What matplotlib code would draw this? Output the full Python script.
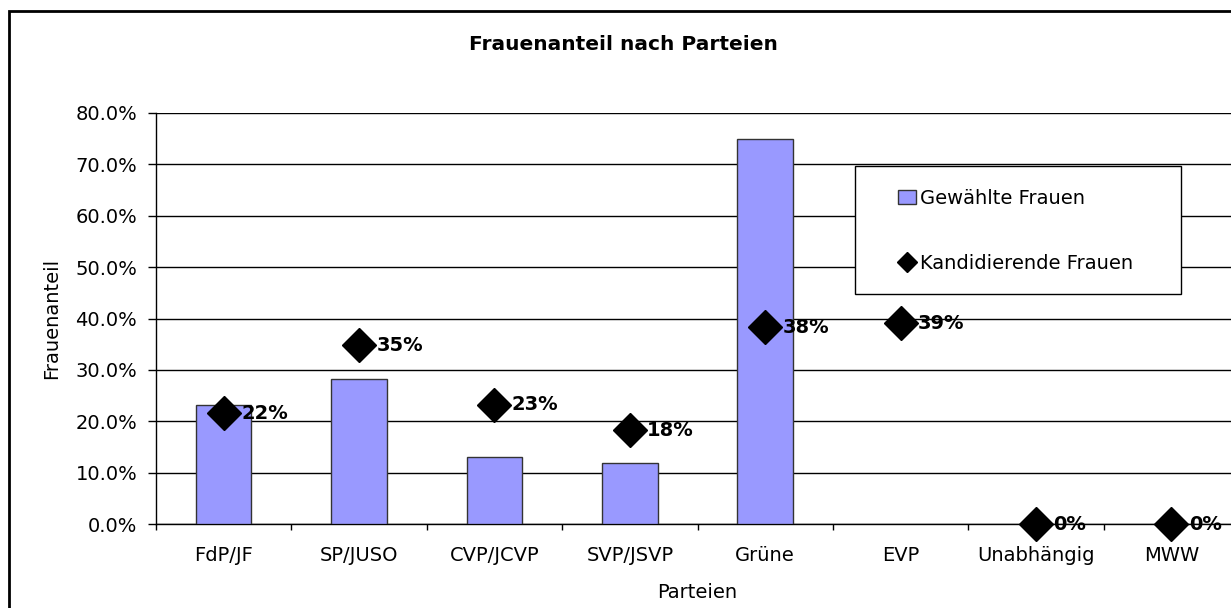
import matplotlib
matplotlib.use("Agg")
from matplotlib import pyplot as plt
from matplotlib.patches import Rectangle
from matplotlib.ticker import FuncFormatter
import numpy as np

# Frauenanteil nach Parteien

parteien = ["FdP/JF", "SP/JUSO", "CVP/JCVP", "SVP/JSVP", "Grüne", "EVP", "Unabhängig", "MWW"]
gewaehlt = [23.1, 28.2, 13.0, 11.9, 75.0, 0.0, 0.0, 0.0]
kandidierend = [21.6, 34.8, 23.2, 18.2, 38.3, 39.1, 0.0, 0.0]

plt.rcParams['font.family'] = ['DejaVu Sans']

W, H = 1231, 608
fig = plt.figure(figsize=(W / 100, H / 100), dpi=100)
ax = fig.add_axes([156/W, 84/H, 1083/W, 411/H])

x = np.arange(len(parteien))
bars = ax.bar(x, gewaehlt, width=0.41, color='#9999ff', edgecolor='#333333', linewidth=1,
              label='Gewählte Frauen', zorder=3)
for b, v in zip(bars, gewaehlt):
    if v == 0:
        b.set_visible(False)
pts, = ax.plot(x, kandidierend, linestyle='none', marker='D', markersize=17, color='black',
               label='Kandidierende Frauen', zorder=4, clip_on=False)
for xi, v in zip(x, kandidierend):
    ax.annotate(f"{v:.0f}%", (xi, v), xytext=(12.5, 0), textcoords='offset points',
                ha='left', va='center', fontsize=14, fontweight='bold', zorder=5)

ax.set_xlim(-0.5, len(parteien) - 0.5)
ax.set_ylim(0, 80)
ax.set_yticks(np.arange(0, 81, 10))
ax.yaxis.set_major_formatter(FuncFormatter(lambda v, p: f"{v:.1f}%"))
ax.yaxis.grid(True, color='black', linewidth=1)
ax.set_axisbelow(True)

ax.set_xticks(x)
ax.set_xticklabels(parteien)
ax.set_xticks(np.arange(-0.5, len(parteien), 1), minor=True)
ax.tick_params(axis='x', which='major', length=0, pad=16, labelsize=14)
ax.tick_params(axis='x', which='minor', length=4.5, width=1, direction='out')
ax.tick_params(axis='y', length=6, width=1, direction='out', labelsize=14, pad=7.5)

for s in ['top', 'right']:
    ax.spines[s].set_visible(False)
ax.spines['left'].set_linewidth(1)
ax.spines['bottom'].set_linewidth(1)

ax.set_xlabel('Parteien', fontsize=14, labelpad=13)
ax.set_ylabel('Frauenanteil', fontsize=14, labelpad=10)

fig.text(623/W, 1 - 44/H, 'Frauenanteil nach Parteien', ha='center', va='center',
         fontsize=14.5, fontweight='bold')

# legend box drawn by hand, entries without frame
fig.patches.append(Rectangle((855/W, 1 - 294/H), 326/W, 128/H, transform=fig.transFigure,
                             facecolor='white', edgecolor='black', linewidth=1, zorder=6))
leg = ax.legend([bars, pts], ['Gewählte Frauen', 'Kandidierende Frauen'],
                loc='upper left', bbox_to_anchor=(898/W, 1 - 189/H),
                bbox_transform=fig.transFigure, fontsize=14, frameon=False,
                labelspacing=2.35, handlelength=0.9, handletextpad=0.25,
                borderpad=0, markerscale=0.6, borderaxespad=0)
leg.set_zorder(7)
fig.legends.append(leg)
ax.get_legend().remove()

fig.patches.append(Rectangle((9/W, -0.1), 1.1, 1 - 11/H + 0.1, transform=fig.transFigure,
                             fill=False, edgecolor='black', linewidth=2))

fig.savefig('out.png', dpi=100, facecolor='white')
